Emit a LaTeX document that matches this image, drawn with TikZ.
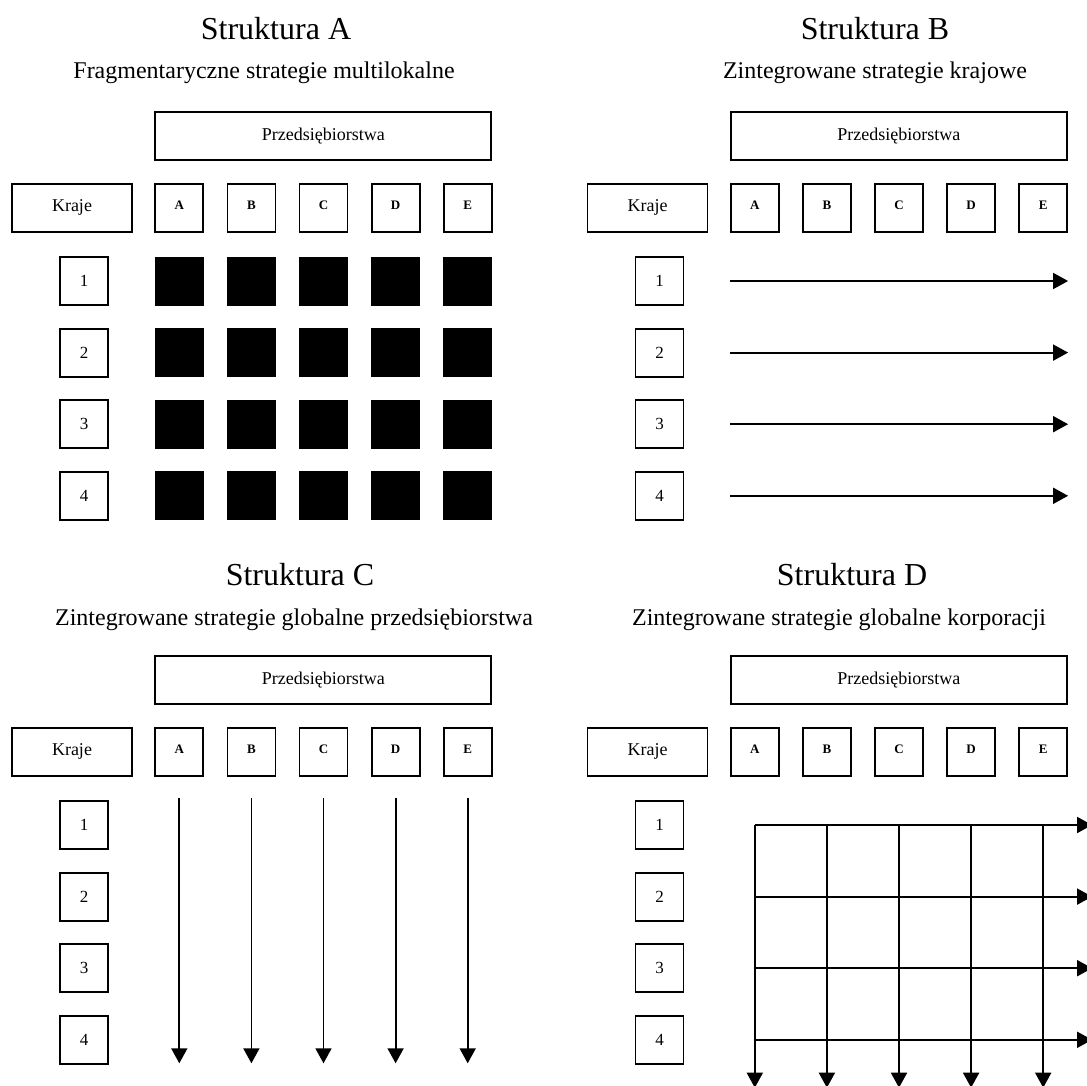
\documentclass[tikz,border=0pt]{standalone}
\usepackage{fontspec}
\setmainfont{Liberation Serif}
\usetikzlibrary{arrows.meta}
\tikzset{
  box/.style={rectangle,draw,line width=0.9pt,inner sep=0pt,
              font=\fontsize{9}{11}\selectfont},
  firmhdr/.style={box,minimum width=168pt,minimum height=24pt},
  krajhdr/.style={box,minimum width=60pt,minimum height=24pt},
  firm/.style={box,minimum size=24pt,font=\bfseries\fontsize{6.5}{7}\selectfont},
  kraj/.style={box,minimum size=24pt,font=\fontsize{8.5}{10}\selectfont},
  cell/.style={rectangle,fill=black,minimum size=24.5pt,inner sep=0pt},
  title/.style={inner sep=0pt,font=\fontsize{16}{19}\selectfont},
  subtitle/.style={inner sep=0pt,font=\fontsize{12}{14}\selectfont},
  flow/.style={-{Triangle[length=7.5pt,width=8pt]},line width=0.9pt},
}

\begin{document}
\begin{tikzpicture}[x=0.5pt,y=-0.5pt]
\useasboundingbox (0,0) rectangle (1087,1086);
% titles
\node[title]    (ta) at (276,29)   {Struktura A};
\node[subtitle] (sa) at (264,73)   {Fragmentaryczne strategie multilokalne};
\node[title]    (tb) at (875,29)   {Struktura B};
\node[subtitle] (sb) at (875,73)   {Zintegrowane strategie krajowe};
\node[title]    (tc) at (300,575)  {Struktura C};
\node[subtitle] (sc) at (294,620)  {Zintegrowane strategie globalne przedsiębiorstwa};
\node[title]    (td) at (852,575)  {Struktura D};
\node[subtitle] (sd) at (839,620)  {Zintegrowane strategie globalne korporacji};
% the four tables
\foreach \p/\ox/\oy in {a/0/0,b/575.5/0,c/0/544,d/575.5/544}{
  \node[firmhdr] (\p-firms) at (323.3+\ox,135.8+\oy) {Przedsiębiorstwa};
  \node[krajhdr] (\p-kraje) at (72+\ox,207.8+\oy) {Kraje};
  \foreach \f [count=\i from 0] in {A,B,C,D,E}
    \node[firm] (\p-\f) at (179.3+72.1*\i+\ox,207.8+\oy) {\raisebox{2.5pt}{\f}};
  \foreach \k in {1,...,4}
    \node[kraj] (\p-\k) at (84+\ox,209.4+71.6*\k+\oy) {\k};
}
% A: fragmented
\foreach \f in {A,B,C,D,E}
  \foreach \k in {1,...,4}
    \node[cell] (a-\f\k) at (a-\f |- a-\k) {};
% B: by country
\foreach \k in {1,...,4}{
  \coordinate (b-w\k) at (b-A.west |- b-\k);
  \coordinate (b-e\k) at (b-E.east |- b-\k);
  \draw[flow] (b-w\k) -- (b-e\k);
}
% C: by company
\foreach \f in {A,B,C,D,E}{
  \coordinate (c-n\f) at ([yshift=1.2pt]c-\f |- c-1.north);
  \coordinate (c-s\f) at ([yshift=0.7pt]c-\f |- c-4.south);
  \draw[flow] (c-n\f) -- (c-s\f);
}
% D: grid
\foreach \k in {1,...,4}{
  \coordinate (d-w\k) at (d-A |- d-\k);
  \coordinate (d-e\k) at ([xshift=12pt]d-E.east |- d-\k);
  \draw[flow] (d-w\k) -- (d-e\k);
}
\foreach \f in {A,B,C,D,E}{
  \coordinate (d-n\f) at (d-\f |- d-1);
  \coordinate (d-s\f) at ([yshift=-11.5pt]d-\f |- d-4.south);
  \draw[flow] (d-n\f) -- (d-s\f);
}
\end{tikzpicture}
\end{document}
